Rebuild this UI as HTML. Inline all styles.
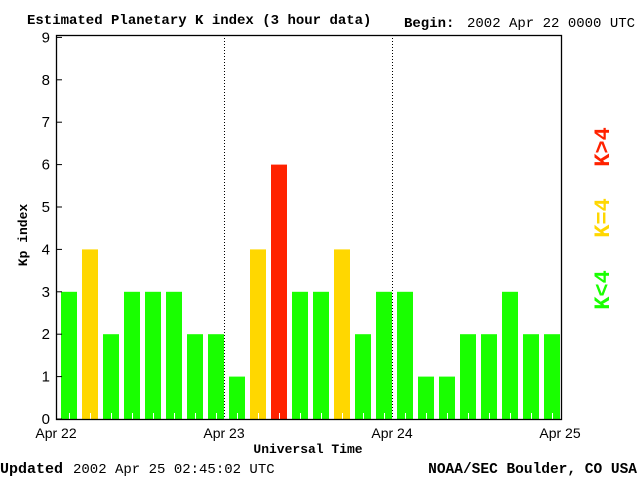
<!DOCTYPE html>
<html><head><meta charset="utf-8"><style>
body{margin:0;background:#fff;width:640px;height:480px;overflow:hidden}
svg{display:block}
.mb{font-family:"Liberation Mono",monospace;font-weight:bold}
.mn{font-family:"Liberation Mono",monospace}
</style></head><body>
<svg id="c" width="640" height="480">
<text x="27" y="24" class="mb" font-size="14">Estimated Planetary K index (3 hour data)</text>
<text x="404" y="27" class="mb" font-size="14">Begin:</text>
<text x="467" y="27" class="mn" font-size="14">2002 Apr 22 0000 UTC</text>
<text x="0" y="473" class="mb" font-size="15">Updated</text>
<text x="73" y="473" class="mn" font-size="14">2002 Apr 25 02:45:02 UTC</text>
<text x="637" y="473" text-anchor="end" class="mb" font-size="14.5">NOAA/SEC Boulder, CO USA</text>
<text x="308" y="453" text-anchor="middle" class="mb" font-size="13">Universal Time</text>
<text transform="translate(27,235) rotate(-90)" text-anchor="middle" class="mb" font-size="13">Kp index</text>
<g class="mb" font-size="22" text-anchor="middle">
<text transform="translate(609,147) rotate(-90)" fill="#ff2200">K&gt;4</text>
<text transform="translate(609,218) rotate(-90)" fill="#ffd700">K=4</text>
<text transform="translate(609,290) rotate(-90)" fill="#19ff00">K&lt;4</text>
</g>
<g id="plot"></g>
</svg>
<script>
const kpValues=[3,4,2,3,3,3,2,2, 1,4,6,3,3,4,2,3, 3,1,1,2,2,3,2,2];
const dayLabels=["Apr 22","Apr 23","Apr 24","Apr 25"];
const yTicks=[0,1,2,3,4,5,6,7,8,9];
const L=56,R=561,T=35,B=419,unit=42.4,slot=21;
const NS="http://www.w3.org/2000/svg";
const g=document.getElementById('plot');
const y=v=>B-v*unit, x=i=>L+i*slot;
function mk(t,a){const e=document.createElementNS(NS,t);for(const k in a)e.setAttribute(k,a[k]);g.appendChild(e);return e;}
kpValues.forEach((v,i)=>{
 const col=v>4?"#ff2200":v==4?"#ffd700":"#19ff00";
 const r=mk('rect',{x:x(i)+5,y:y(v),width:16,height:B-y(v),fill:col});
 
 
 const t=mk('line',{x1:x(i)+13.5,x2:x(i)+13.5,y1:B-6,y2:B,stroke:"#fff"});
 
 
});
[1,2].forEach(d=>{const l=mk('line',{x1:L+d*168+0.5,x2:L+d*168+0.5,y1:T,y2:B,stroke:"#000","stroke-dasharray":"1,2"});
 
 });
const fr=mk('rect',{x:L+0.5,y:T+0.5,width:R-L,height:B-T,fill:"none",stroke:"#000","stroke-width":1.3});


yTicks.forEach(v=>{
 const l=mk('line',{x1:L,x2:L+6,y1:y(v),y2:y(v),stroke:"#000"});
 
 
 const t=mk('text',{x:L-6,y:y(v)+5,"text-anchor":"end","font-family":"Liberation Sans,sans-serif","font-size":15});
 t.textContent=v;
 
 
});
dayLabels.forEach((s,d)=>{
 const t=mk('text',{x:L+d*168,y:438,"text-anchor":"middle","font-family":"Liberation Sans,sans-serif","font-size":14});
 t.textContent=s;
 
 
});
</script>
</body></html>
